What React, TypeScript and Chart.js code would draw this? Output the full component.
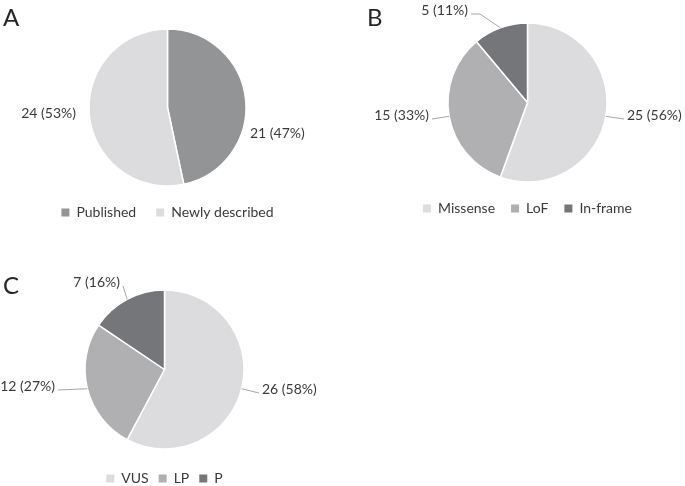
import React, { useEffect, useRef } from "react";
import { Chart, registerables } from "chart.js";

Chart.register(...registerables);

const FONT = "Lato, 'Open Sans', sans-serif";
const TEXT_COLOR = "#3a3a3a";
const LINE_COLOR = "#a6a6a6";

// ---- Data ----
const publicationLabels = ["Published", "Newly described"];
const publicationValues = [21, 24];

const variantTypeLabels = ["Missense", "LoF", "In-frame"];
const variantTypeValues = [25, 15, 5];

const classLabels = ["VUS", "LP", "P"];
const classValues = [26, 12, 7];

// ---- Styles ----
const publicationColors = ["#939496", "#dcdcde"];
const variantTypeColors = ["#dcdcde", "#b0b0b2", "#75767a"];
const classColors = ["#dcdcde", "#b0b0b2", "#75767a"];

type LabelPos = { dx: number; dy: number; align: "left" | "right"; line: boolean; elbow?: number };

const publicationLabelPos: LabelPos[] = [
  { dx: 82.5, dy: 25.5, align: "left", line: false },
  { dx: -91.5, dy: 5.5, align: "right", line: false },
];
const variantTypeLabelPos: LabelPos[] = [
  { dx: 99.5, dy: 12.5, align: "left", line: true },
  { dx: -98.5, dy: 12.5, align: "right", line: true },
  { dx: -59.5, dy: -92.5, align: "right", line: true, elbow: 9 },
];
const classLabelPos: LabelPos[] = [
  { dx: 97.5, dy: 19.5, align: "left", line: true },
  { dx: -109.5, dy: 16.5, align: "right", line: true },
  { dx: -44.5, dy: -87.5, align: "right", line: true },
];

function makeLabelPlugin(layout: LabelPos[]) {
  return {
    id: "pieLabels",
    afterDatasetsDraw(chart: any) {
      const { ctx } = chart;
      const meta = chart.getDatasetMeta(0);
      const values = chart.data.datasets[0].data as number[];
      const total = values.reduce((a, b) => a + b, 0);
      ctx.save();
      ctx.font = `14px ${FONT}`;
      ctx.fillStyle = TEXT_COLOR;
      ctx.textBaseline = "middle";
      meta.data.forEach((arc: any, i: number) => {
        const p = arc.getProps(["x", "y", "startAngle", "endAngle", "outerRadius"], true);
        const L = layout[i];
        const tx = p.x + L.dx;
        const ty = p.y + L.dy;
        const text = `${values[i]} (${Math.round((values[i] / total) * 100)}%)`;
        ctx.textAlign = L.align;
        ctx.fillText(text, tx, ty);
        if (L.line) {
          const mid = (p.startAngle + p.endAngle) / 2;
          const ax = p.x + p.outerRadius * Math.cos(mid);
          const ay = p.y + p.outerRadius * Math.sin(mid);
          const sx = L.align === "left" ? tx - 3 : tx + 3;
          const sy = ty + 4;
          ctx.beginPath();
          ctx.moveTo(sx, sy);
          if (L.elbow) {
            ctx.lineTo(sx + (L.align === "left" ? -L.elbow : L.elbow), sy);
          }
          ctx.lineTo(ax, ay);
          ctx.strokeStyle = LINE_COLOR;
          ctx.lineWidth = 1;
          ctx.stroke();
        }
      });
      ctx.restore();
    },
  };
}

type PieProps = {
  left: number;
  top: number;
  width: number;
  height: number;
  labels: string[];
  values: number[];
  colors: string[];
  radius: number;
  padding: { top: number; bottom: number; left: number; right: number };
  legendPadding: number;
  labelPos: LabelPos[];
};

function PieChart(props: PieProps) {
  const ref = useRef<HTMLCanvasElement | null>(null);
  useEffect(() => {
    if (!ref.current) return;
    const chart = new Chart(ref.current, {
      type: "pie",
      data: {
        labels: props.labels,
        datasets: [
          {
            data: props.values,
            backgroundColor: props.colors,
            borderColor: "#ffffff",
            borderWidth: 1.5,
            radius: props.radius,
          } as any,
        ],
      },
      options: {
        responsive: false,
        animation: false,
        devicePixelRatio: 1,
        layout: { padding: props.padding },
        plugins: {
          tooltip: { enabled: false },
          legend: {
            display: true,
            position: "bottom",
            labels: {
              boxWidth: 8,
              boxHeight: 8,
              padding: props.legendPadding,
              color: TEXT_COLOR,
              font: { size: 14, family: FONT },
              generateLabels: (c: any) =>
                (Chart as any).overrides.pie.plugins.legend.labels
                  .generateLabels(c)
                  .map((l: any) => ({ ...l, lineWidth: 0 })),
            },
          },
        },
      } as any,
      plugins: [makeLabelPlugin(props.labelPos)],
    });
    return () => chart.destroy();
  }, []);
  return (
    <canvas
      ref={ref}
      width={props.width}
      height={props.height}
      style={{ position: "absolute", left: props.left, top: props.top, width: props.width, height: props.height }}
    />
  );
}

const letterStyle: React.CSSProperties = {
  position: "absolute",
  fontFamily: FONT,
  fontSize: 24,
  lineHeight: "24px",
  color: "#262626",
};

export default function App() {
  return (
    <div
      style={{
        position: "fixed",
        left: 0,
        top: 0,
        width: 685,
        height: 486,
        overflow: "hidden",
        background: "#ffffff",
      }}
    >
      <PieChart
        left={0}
        top={0}
        width={340}
        height={240}
        labels={publicationLabels}
        values={publicationValues}
        colors={publicationColors}
        radius={78.5}
        padding={{ top: 29.5, bottom: 10.5, left: 0, right: 5 }}
        legendPadding={20}
        labelPos={publicationLabelPos}
      />
      <PieChart
        left={340}
        top={0}
        width={345}
        height={240}
        labels={variantTypeLabels}
        values={variantTypeValues}
        colors={variantTypeColors}
        radius={79.5}
        padding={{ top: 19.5, bottom: 14.5, left: 30, right: 0 }}
        legendPadding={16}
        labelPos={variantTypeLabelPos}
      />
      <PieChart
        left={0}
        top={240}
        width={340}
        height={256}
        labels={classLabels}
        values={classValues}
        colors={classColors}
        radius={79.5}
        padding={{ top: 37.5, bottom: 0.5, left: 0, right: 11 }}
        legendPadding={10}
        labelPos={classLabelPos}
      />
      <div style={{ ...letterStyle, left: 3, top: 5 }}>A</div>
      <div style={{ ...letterStyle, left: 367, top: 5 }}>B</div>
      <div style={{ ...letterStyle, left: 3, top: 273 }}>C</div>
    </div>
  );
}
